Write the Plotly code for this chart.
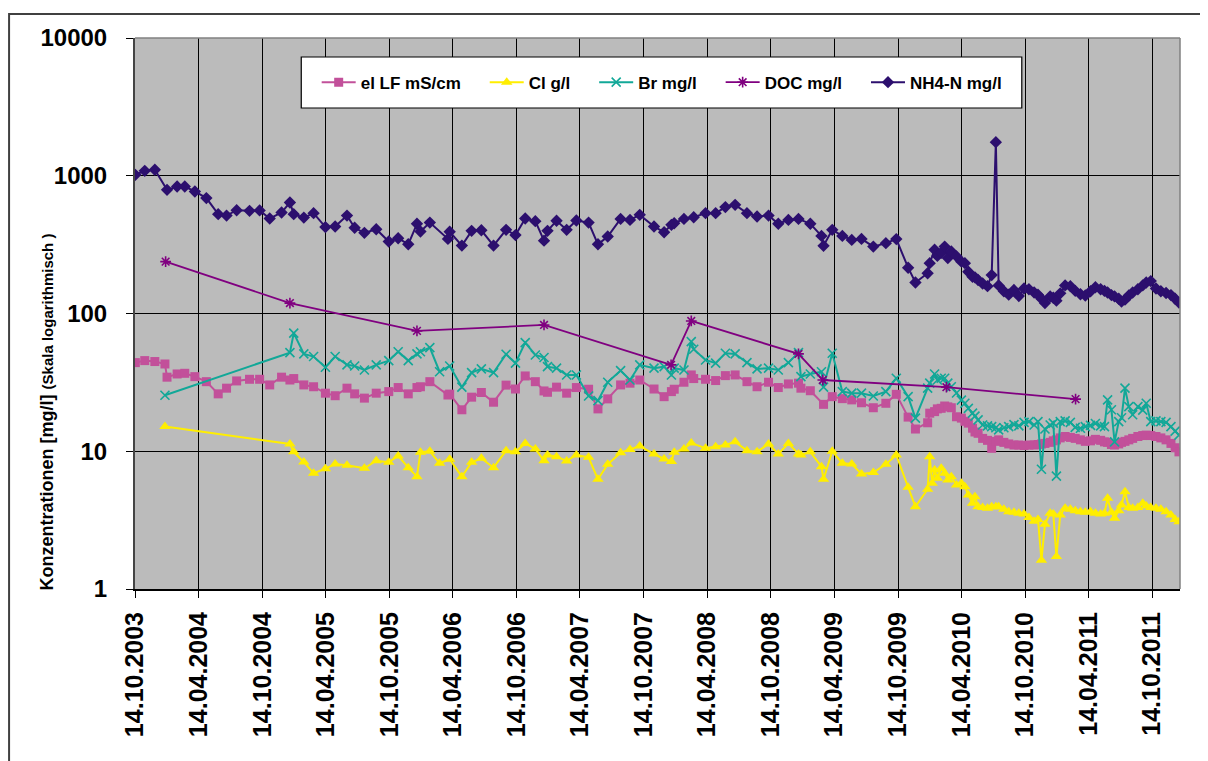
import plotly.graph_objects as go

FONT = "Liberation Sans, Arial, sans-serif"

# ---------------- data ----------------
dates = [
    "2003-10-15", "2003-11-11", "2003-12-10", "2004-01-08", "2004-01-14", "2004-02-12", "2004-03-05", "2004-04-03", "2004-05-06", "2004-06-09",
    "2004-07-03", "2004-08-01", "2004-09-07", "2004-10-06", "2004-11-04", "2004-12-08", "2005-01-01", "2005-01-12", "2005-02-10", "2005-03-10",
    "2005-04-13", "2005-05-11", "2005-06-14", "2005-07-06", "2005-08-03", "2005-09-06", "2005-10-12", "2005-11-08", "2005-12-07", "2006-01-01",
    "2006-01-11", "2006-02-07", "2006-03-07", "2006-03-31", "2006-04-05", "2006-05-10", "2006-06-07", "2006-07-05", "2006-08-09", "2006-09-14",
    "2006-10-11", "2006-11-08", "2006-12-07", "2007-01-01", "2007-01-11", "2007-02-06", "2007-03-07", "2007-04-04", "2007-05-09", "2007-06-05",
    "2007-07-03", "2007-08-09", "2007-09-05", "2007-10-03", "2007-11-13", "2007-12-12", "2008-01-02", "2008-01-10", "2008-02-07", "2008-02-28",
    "2008-03-06", "2008-04-09", "2008-05-08", "2008-06-05", "2008-07-03", "2008-08-06", "2008-09-04", "2008-10-07", "2008-11-04", "2008-12-03",
    "2009-01-01", "2009-01-08", "2009-02-04", "2009-03-08", "2009-03-14", "2009-04-08", "2009-05-07", "2009-06-03", "2009-07-01", "2009-08-04",
    "2009-09-09", "2009-10-09", "2009-11-12", "2009-12-03", "2010-01-07", "2010-01-13", "2010-01-20", "2010-01-27", "2010-02-04", "2010-02-15",
    "2010-02-25", "2010-03-06", "2010-03-16", "2010-03-31", "2010-04-14", "2010-04-24", "2010-05-04", "2010-05-16", "2010-05-23", "2010-06-01",
    "2010-06-14", "2010-06-28", "2010-07-10", "2010-07-22", "2010-07-30", "2010-08-14", "2010-08-28", "2010-09-12", "2010-09-26", "2010-10-11",
    "2010-10-25", "2010-11-09", "2010-11-20", "2010-11-30", "2010-12-10", "2010-12-25", "2011-01-03", "2011-01-12", "2011-01-23", "2011-02-06",
    "2011-02-21", "2011-03-07", "2011-03-22", "2011-04-05", "2011-04-20", "2011-05-04", "2011-05-19", "2011-05-30", "2011-06-08", "2011-06-19",
    "2011-06-28", "2011-07-10", "2011-07-18", "2011-07-28", "2011-08-08", "2011-08-19", "2011-09-03", "2011-09-17", "2011-09-27", "2011-10-10",
    "2011-10-25", "2011-11-08", "2011-11-23", "2011-12-07", "2011-12-19", "2011-12-30",
]

nh4 = [
    1015, 1086, 1105, None, 790, 835, 835, 769, 688, 526,
    514, 562, 556, 560, 489, 541, 639, 526, 497, 535,
    424, 428, 514, 419, 385, 409, 333, 352, 318, 448,
    394, 457, None, 348, 392, 311, 398, 402, 311, 405,
    371, 489, 468, 338, 398, 471, 405, 473, 457, 318,
    362, 486, 478, 520, 428, 389, 440, 452, 486, None,
    500, 535, 535, 592, 615, 535, 506, 514, 448, 478,
    486, None, 448, 366, 310, 405, 366, 342, 348, 306,
    324, 347, 215, 168, 196, 232, None, 290, 262, 276,
    306, 253, 282, 260, 238, 232, 201, 185, 183, 175,
    165, 158, 190, 1754, 160, 145, 137, 148, 134, 152,
    150, 142, 137, 128, 119, 133, 130, 124, 140, 160,
    158, 146, 138, 135, 145, 155, 150, 146, 142, 136,
    133, 128, 122, 126, 135, 142, 150, 160, 168, 172,
    152, 145, 141, 136, 128, 120,
]

el_lf = [
    44.0, 45.5, 44.8, 43.0, 34.5, 36.4, 36.8, 34.8, 32.0, 26.1,
    28.7, 32.4, 33.3, 33.3, 30.3, 34.5, 32.9, 33.7, 30.3, 29.4,
    26.4, 25.3, 28.7, 26.1, 24.3, 26.4, 27.1, 29.0, 26.1, 29.0,
    29.4, 32.0, None, 25.6, 26.0, 20.0, 24.7, 26.7, 22.7, 30.2,
    28.3, 35.2, 32.0, 27.4, 26.8, 29.2, 26.4, 29.0, 28.2, 20.3,
    24.0, 30.3, 31.2, 32.9, 28.3, 24.9, 27.1, 28.2, 31.7, 35.8,
    33.7, 33.3, 32.6, 35.4, 35.8, 32.0, 29.4, 31.7, 29.0, 30.8,
    31.2, 28.7, 27.5, None, 21.9, 24.9, 24.1, 23.6, 22.5, 20.7,
    22.3, 25.9, 17.7, 14.5, 16.1, 18.9, None, 19.4, 20.3, 20.5,
    21.3, 21.0, 20.7, 17.8, 17.4, 16.5, 16.0, 14.7, 13.8, 13.5,
    12.4, 12.0, 10.5, 11.8, 12.1, 11.6, 11.3, 11.1, 11.1, 11.0,
    11.1, 11.1, 11.2, 11.3, 11.4, 11.6, 11.9, 12.1, 12.5, 12.8,
    12.6, 12.4, 12.1, 11.8, 11.9, 12.2, 12.0, 11.7, 11.6, 11.2,
    11.1, 11.3, 11.6, 11.8, 12.1, 12.4, 12.8, 13.0, 13.1, 13.0,
    12.8, 12.5, 12.1, 11.4, 10.6, 9.9,
]

br = [
    None, None, None, 25.5, None, None, None, None, None, None,
    None, None, None, None, None, None, 52.0, 72.0, 50.9, 48.7,
    40.7, 48.7, 42.4, 41.6, 38.9, 42.4, 45.5, 52.8, 45.5, 50.9,
    52.8, 56.5, 37.8, None, 41.6, 29.2, 37.2, 39.6, 37.2, 50.6,
    43.6, 61.5, 50.0, 47.9, 41.1, 40.1, 35.8, 35.8, 25.2, 23.3,
    31.7, 38.5, 32.9, 42.4, 40.1, 41.1, 35.8, 40.1, 38.9, 62.5,
    55.0, 46.0, 43.6, 51.5, 50.9, 44.0, 39.6, 40.1, 38.9, 44.0,
    52.0, 34.8, 36.4, 37.8, 29.2, 51.5, 27.1, 26.4, 26.4, 25.2,
    27.1, 33.9, 24.9, 17.4, 28.7, 31.2, None, 36.4, 32.9, 33.9,
    33.9, 31.2, 29.4, 26.5, 23.5, 22.3, 20.5, 18.9, 18.0, 16.9,
    15.5, 15.3, 15.1, 14.8, 14.3, 14.8, 15.1, 15.6, 15.3, 16.2,
    16.4, 15.5, 16.4, 7.4, 14.5, 15.5, 16.0, 6.6, 16.4, 16.6,
    16.2, 14.9, 14.7, 15.1, 15.4, 15.9, 15.3, 15.1, 23.6, 20.0,
    11.7, 16.4, 17.5, 28.7, 21.1, 18.4, 21.1, 19.9, 22.3, 16.4,
    16.6, 16.4, 16.2, 15.1, 14.0, 13.1,
]

cl = [
    None, None, None, 15.1, None, None, None, None, None, None,
    None, None, None, None, None, None, 11.3, 9.9, 8.36, 6.92,
    7.47, 8.08, 7.9, None, 7.52, 8.54, 8.32, 9.25, 7.60, 6.54,
    9.84, 10.0, 8.18, None, 8.75, 6.54, 8.32, 8.89, 7.60, 10.1,
    9.9, 11.4, 10.4, 8.54, 9.40, 9.14, 8.51, 9.40, 9.04, 6.26,
    8.04, 9.77, 10.3, 10.9, 9.55, 8.79, 8.41, 9.84, 10.4, 11.5,
    None, 10.5, 10.8, 11.1, 11.7, 10.1, 9.9, 11.3, 9.55, 11.4,
    9.55, 9.40, 9.9, 7.72, 6.26, 10.0, 8.18, 8.08, 6.84, 7.0,
    8.04, 9.40, 5.48, 3.96, 5.30, 9.14, 5.86, 7.3, 6.37, 7.53,
    6.92, 6.19, 6.54, 5.69, 5.86, 5.53, 4.82, 4.19, 4.68, 3.96,
    3.9, 3.86, 3.95, 3.96, 3.95, 3.8, 3.64, 3.6, 3.55, 3.5,
    3.3, 3.1, 3.2, 1.62, 2.95, 3.55, 3.5, 1.72, 3.45, 3.86,
    3.8, 3.7, 3.64, 3.6, 3.64, 3.55, 3.5, 3.55, 4.56, 3.6,
    3.26, 3.7, 4.07, 5.09, 3.9, 3.86, 3.9, 4.19, 4.0, 3.9,
    3.86, 3.8, 3.64, 3.45, 3.2, 3.08,
]

doc_dates = ["2004-01-10", "2005-01-01", "2006-01-01", "2007-01-01", "2008-01-01",
             "2008-02-28", "2009-01-01", "2009-03-12", "2010-03-02", "2011-03-08"]
doc = [238, 119, 74.8, 82.6, 42.4, 88.3, 50.9, 32.9, 29.2, 23.9]

tick_dates = ["2003-10-14", "2004-04-14", "2004-10-14", "2005-04-14", "2005-10-14",
              "2006-04-14", "2006-10-14", "2007-04-14", "2007-10-14", "2008-04-14",
              "2008-10-14", "2009-04-14", "2009-10-14", "2010-04-14", "2010-10-14",
              "2011-04-14", "2011-10-14"]
tick_text = ["14.10.2003", "14.04.2004", "14.10.2004", "14.04.2005", "14.10.2005",
             "14.04.2006", "14.10.2006", "14.04.2007", "14.10.2007", "14.04.2008",
             "14.10.2008", "14.04.2009", "14.10.2009", "14.04.2010", "14.10.2010",
             "14.04.2011", "14.10.2011"]

y_ticks = [1, 10, 100, 1000, 10000]
y_text = ["1", "10", "100", "1000", "10000"]

series_names = ["el LF mS/cm", "Cl g/l", "Br mg/l", "DOC mg/l", "NH4-N mg/l"]
PAD = "&nbsp;" * 4

# ---------------- figure ----------------
fig = go.Figure()

fig.add_trace(go.Scatter(
    x=dates, y=el_lf, name=series_names[0] + PAD, mode="lines+markers", connectgaps=True,
    line=dict(color="#C2509A", width=2),
    marker=dict(symbol="square", size=9, color="#C2509A")))

fig.add_trace(go.Scatter(
    x=dates, y=cl, name=series_names[1] + PAD, mode="lines+markers", connectgaps=True,
    line=dict(color="#FFEE00", width=2),
    marker=dict(symbol="triangle-up", size=10, color="#FFEE00")))

fig.add_trace(go.Scatter(
    x=dates, y=br, name=series_names[2] + PAD, mode="lines+markers", connectgaps=True,
    line=dict(color="#12A898", width=2),
    marker=dict(symbol="x-thin-open", size=9, color="#12A898",
                line=dict(color="#12A898", width=1.6))))

fig.add_trace(go.Scatter(
    x=doc_dates, y=doc, name=series_names[3] + PAD, mode="lines+markers",
    line=dict(color="#800080", width=1.8),
    marker=dict(symbol="asterisk-open", size=9, color="#800080",
                line=dict(color="#800080", width=1.6))))

fig.add_trace(go.Scatter(
    x=dates, y=nh4, name=series_names[4], mode="lines+markers", connectgaps=True,
    line=dict(color="#2C0F6E", width=2),
    marker=dict(symbol="diamond", size=9.5, color="#2C0F6E")))

fig.update_layout(
    width=1200, height=753,
    margin=dict(l=127, r=28, t=30, b=172),
    paper_bgcolor="white",
    plot_bgcolor="#BBBBBB",
    font=dict(family=FONT, color="black"),
    showlegend=True,
    legend=dict(
        orientation="h", x=0.504, xanchor="center", y=0.919, yanchor="middle",
        bgcolor="rgba(0,0,0,0)", borderwidth=0,
        font=dict(family=FONT, size=17, color="black", weight=700),
        itemwidth=34,
    ),
    xaxis=dict(
        type="date", range=["2003-10-14", "2012-01-02"],
        tickmode="array", tickvals=tick_dates, ticktext=tick_text,
        tickangle=-90, ticks="outside", ticklen=7, tickwidth=1, tickcolor="black",
        tickfont=dict(family=FONT, size=25, color="black", weight=700),
        ticklabelstandoff=4,
        showgrid=True, gridcolor="black", gridwidth=1,
        showline=True, linecolor="black", linewidth=2,
    ),
    yaxis=dict(
        type="log", range=[0, 4],
        tickmode="array", tickvals=y_ticks, ticktext=y_text,
        ticks="outside", ticklen=7, tickwidth=1, tickcolor="black",
        tickfont=dict(family=FONT, size=24, color="black", weight=700),
        ticklabelstandoff=14,
        showgrid=True, gridcolor="black", gridwidth=1,
        showline=True, linecolor="#444444", linewidth=2,
    ),
)

# plot-area border (top / right), legend box, outer chart border
fig.add_shape(type="line", xref="paper", yref="paper", x0=0, x1=1, y0=1, y1=1,
              line=dict(color="#808080", width=1.5), layer="above")
fig.add_shape(type="line", xref="paper", yref="paper", x0=1, x1=1, y0=0, y1=1,
              line=dict(color="#808080", width=1.5), layer="above")
fig.add_shape(type="rect", xref="paper", yref="paper",
              x0=0.1591, x1=0.8486, y0=0.873, y1=0.9655,
              fillcolor="white", line=dict(color="black", width=1.2), layer="above")
fig.add_shape(type="rect", xref="paper", yref="paper",
              x0=-0.1205, x1=1.027, y0=-0.40, y1=1.0436,
              fillcolor="rgba(0,0,0,0)", line=dict(color="#404040", width=2), layer="above")

fig.add_annotation(
    xref="paper", yref="paper", x=-0.0839, y=0.321,
    xanchor="center", yanchor="middle", textangle=-90, showarrow=False,
    text="<b>Konzentrationen [mg/l]</b> <b><span style='font-size:15px'>(Skala logarithmisch )</span></b>",
    font=dict(family=FONT, size=18, color="black"),
)

fig.write_html("out.html")
